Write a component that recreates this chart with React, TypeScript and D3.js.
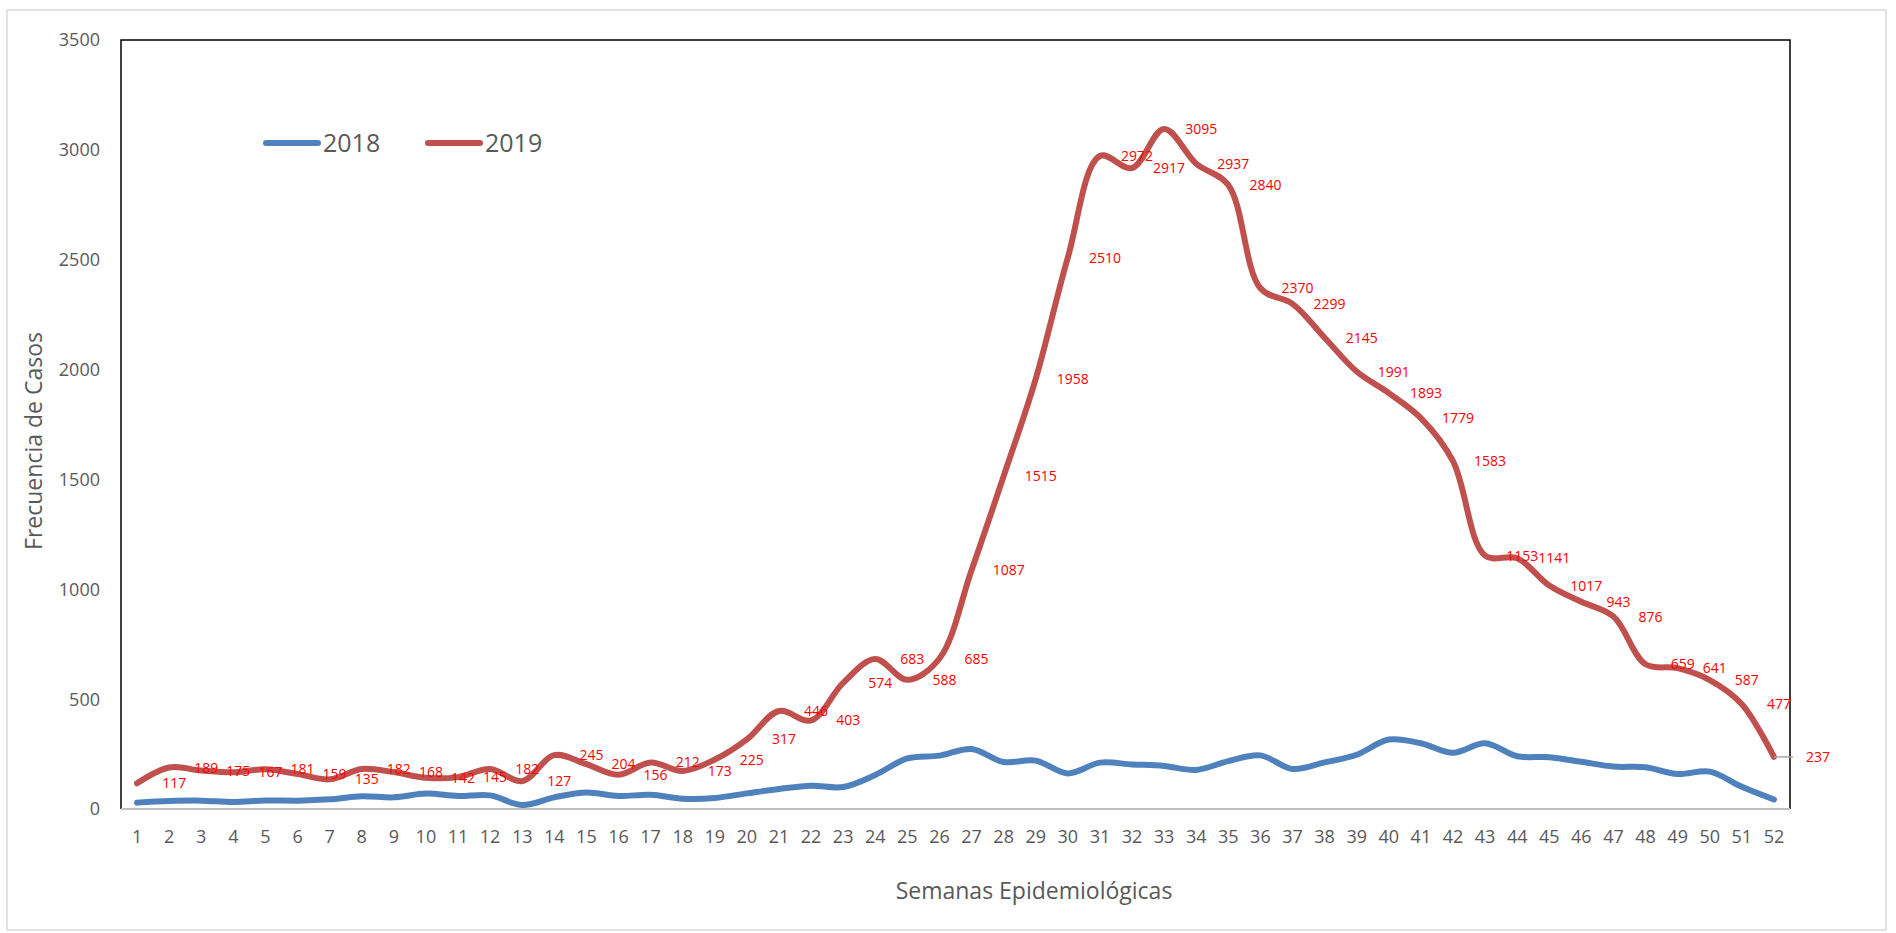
import React, { useEffect } from 'react';
import * as d3 from 'd3';

// semanas epidemiológicas
const weeks: number[] = d3.range(1, 53);

// casos por semana
const cases2018: number[] = [
	29, 36, 38, 32, 39, 38, 44, 58, 53, 70, 59, 62, 18, 53, 75, 59, 65, 47, 50, 71,
	91, 106, 100, 155, 230, 243, 273, 214, 220, 162, 211, 203, 196, 178, 218, 244, 182, 212, 247, 316,
	299, 256, 299, 240, 236, 215, 193, 190, 159, 170, 101, 43,
];
const cases2019: number[] = [
	117, 189, 175, 167, 181, 159, 135, 182, 168, 142, 145, 182, 127, 245, 204, 156, 212, 173, 225, 317,
	446, 403, 574, 683, 588, 685, 1087, 1515, 1958, 2510, 2972, 2917, 3095, 2937, 2840, 2370, 2299, 2145, 1991, 1893,
	1779, 1583, 1153, 1141, 1017, 943, 876, 659, 641, 587, 477, 237,
];

const seriesNames = ['2018', '2019'];
const seriesColors = ['#4F81BD', '#C0504D'];

const W = 1896, H = 933;
const plot = { left: 121, top: 40, right: 1790, bottom: 809 };
const font = "'Open Sans', sans-serif";

export default function App() {
	useEffect(() => {
		document.body.style.margin = '0';
	}, []);

	const x = d3.scaleLinear().domain([0.5, 52.5]).range([plot.left, plot.right]);
	const y = d3.scaleLinear().domain([0, 3500]).range([plot.bottom, plot.top]);

	const line = d3.line<number>()
		.x((_, i) => x(weeks[i]))
		.y(d => y(d))
		.curve(d3.curveCatmullRom);

	const series = [cases2018, cases2019];
	const last = weeks.length - 1;

	return (
		<svg width={W} height={H} style={{ display: 'block', background: '#fff' }} fontFamily={font}>
			{/* marco exterior */}
			<rect x={7} y={10} width={1879} height={920} fill="none" stroke="#d9d9d9" strokeWidth={1.5} />

			{/* plot frame */}
			<path d={`M${plot.left},${plot.bottom}V${plot.top}H${plot.right}V${plot.bottom}`} fill="none" stroke="#000" strokeWidth={1.5} />
			<line x1={plot.left} x2={plot.right} y1={plot.bottom} y2={plot.bottom} stroke="#bfbfbf" strokeWidth={2} />

			{/* eje y */}
			{y.ticks(7).map(t => (
				<text key={t} x={plot.left - 21} y={y(t)} dy="0.36em" textAnchor="end" fontSize={18} fill="#595959">{t}</text>
			))}
			{/* eje x */}
			{weeks.map(w => (
				<text key={w} x={x(w)} y={837} dy="0.36em" textAnchor="middle" fontSize={18} fill="#595959">{w}</text>
			))}

			<text transform={`translate(34,441) rotate(-90)`} textAnchor="middle" dy="0.36em" fontSize={23} fill="#595959">Frecuencia de Casos</text>
			<text x={1034} y={891} textAnchor="middle" dy="0.36em" fontSize={23} fill="#595959">Semanas Epidemiológicas</text>

			{/* lineas */}
			{series.map((s, k) => (
				<path key={k} d={line(s) || ''} fill="none" stroke={seriesColors[k]} strokeWidth={6} strokeLinecap="round" strokeLinejoin="round" />
			))}

			{/* etiquetas 2019 */}
			{cases2019.map((v, i) => i < last ? (
				<text key={i} x={x(weeks[i] + 1) + 5} y={y(v)} dy="0.36em" textAnchor="middle" fontSize={14} fill="#FF0000">{v}</text>
			) : null)}
			<line x1={x(weeks[last])} x2={x(weeks[last]) + 19} y1={y(cases2019[last])} y2={y(cases2019[last])} stroke="#a6a6a6" strokeWidth={1.5} />
			<text x={x(weeks[last]) + 32} y={y(cases2019[last])} dy="0.36em" fontSize={14} fill="#FF0000">{cases2019[last]}</text>

			{/* leyenda */}
			{seriesNames.map((n, k) => (
				<g key={n} transform={`translate(${266 + k * 162},143)`}>
					<line x1={0} x2={52} y1={0} y2={0} stroke={seriesColors[k]} strokeWidth={6} strokeLinecap="round" />
					<text x={57} y={0} dy="0.36em" fontSize={25} fill="#595959">{n}</text>
				</g>
			))}
		</svg>
	);
}
